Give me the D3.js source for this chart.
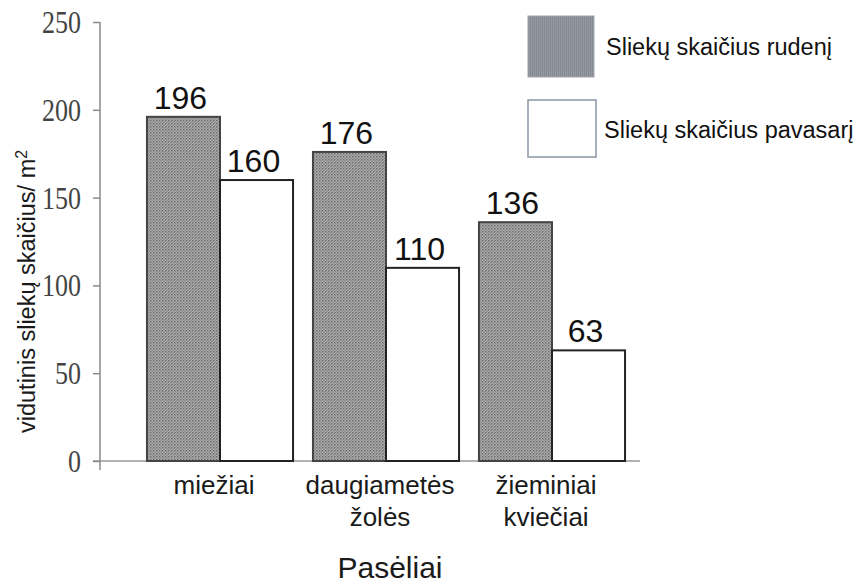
<!DOCTYPE html>
<html>
<head>
<meta charset="utf-8">
<script src="https://cdn.jsdelivr.net/npm/d3@7"></script>
<style>
  html, body { margin: 0; padding: 0; background: #fff; }
  svg { display: block; }
</style>
</head>
<body>
<svg id="chart" width="866" height="584"></svg>
<script>
// Earthworm counts per m² by crop, autumn vs spring
const categories = ["miežiai", "daugiametės žolės", "žieminiai kviečiai"];
const categoryLines = [["miežiai"], ["daugiametės", "žolės"], ["žieminiai", "kviečiai"]];
const seriesNames = ["Sliekų skaičius rudenį", "Sliekų skaičius pavasarį"];
const autumnValues = [196, 176, 136];
const springValues = [160, 110, 63];
const yTicks = [0, 50, 100, 150, 200, 250];

const svg = d3.select("#chart");
const defs = svg.append("defs");

// dotted grey texture for the autumn bars
const pat = defs.append("pattern")
  .attr("id", "dots").attr("patternUnits", "userSpaceOnUse")
  .attr("width", 3).attr("height", 3);
pat.append("rect").attr("width", 3).attr("height", 3).attr("fill", "#b0b0b0");
pat.append("rect").attr("x", 0).attr("y", 0).attr("width", 1.5).attr("height", 1.5).attr("fill", "#6a6a6a");
pat.append("rect").attr("x", 1.5).attr("y", 1.5).attr("width", 1.5).attr("height", 1.5).attr("fill", "#888");

// vertical stripes for the legend swatch
const pat2 = defs.append("pattern")
  .attr("id", "stripes").attr("patternUnits", "userSpaceOnUse")
  .attr("width", 2).attr("height", 2);
pat2.append("rect").attr("width", 2).attr("height", 2).attr("fill", "#959aa2");
pat2.append("rect").attr("width", 1).attr("height", 2).attr("fill", "#858a92");

const y = d3.scaleLinear().domain([0, 250]).range([461, 22]);
const x = d3.scaleBand().domain(categories).range([137, 635])
  .paddingInner(0.12).paddingOuter(0.06);
const xs = d3.scaleBand().domain([0, 1]).range([0, x.bandwidth()]);

// baseline across the plot
svg.append("line")
  .attr("x1", 93).attr("x2", 640)
  .attr("y1", y(0)).attr("y2", y(0))
  .attr("stroke", "#9a9a9a").attr("stroke-width", 1.5);

// y axis
const yAxis = d3.axisLeft(y).tickValues(yTicks).tickSize(7).tickPadding(12);
const gy = svg.append("g").attr("transform", "translate(100,0)").call(yAxis);
gy.select(".domain").remove();
gy.append("line").attr("x1", 0).attr("x2", 0).attr("y1", y(250)).attr("y2", y(0) + 9)
  .attr("stroke", "#8a8a8a").attr("stroke-width", 1.5);
gy.selectAll(".tick line").attr("stroke", "#8a8a8a").attr("stroke-width", 1.5);
gy.selectAll(".tick text")
  .attr("font-family", "'Liberation Serif', 'DejaVu Serif', serif")
  .attr("font-size", 31).attr("fill", "#444")
  .attr("dy", "0.34em")
  .attr("lengthAdjust", "spacingAndGlyphs")
  .attr("textLength", d => String(d).length * 13);

// bars
const rows = categories.map((c, i) => ({ c, vals: [autumnValues[i], springValues[i]] }));
const groups = svg.append("g").selectAll("g").data(rows).join("g")
  .attr("transform", d => `translate(${x(d.c)},0)`);

groups.selectAll("rect").data(d => d.vals.map((v, k) => ({ v, k }))).join("rect")
  .attr("x", d => xs(d.k))
  .attr("width", xs.bandwidth())
  .attr("y", d => y(d.v))
  .attr("height", d => y(0) - y(d.v))
  .attr("fill", d => d.k === 0 ? "url(#dots)" : "#fff")
  .attr("stroke", d => d.k === 0 ? "#444" : "#222")
  .attr("stroke-width", 2);

groups.selectAll("text.val").data(d => d.vals.map((v, k) => ({ v, k }))).join("text")
  .attr("class", "val")
  .attr("x", d => xs(d.k) + xs.bandwidth() / 2 - 3)
  .attr("y", d => y(d.v) - 8)
  .attr("text-anchor", "middle")
  .attr("font-family", "'Liberation Sans', Arial, sans-serif")
  .attr("font-size", 32).attr("fill", "#111")
  .text(d => d.v);

// category labels
categories.forEach((c, i) => {
  const cx = x(c) + x.bandwidth() / 2 - 6;
  const t = svg.append("text")
    .attr("x", cx)
    .attr("y", 494)
    .attr("text-anchor", "middle")
    .attr("font-family", "'Liberation Sans', Arial, sans-serif")
    .attr("font-size", 26).attr("fill", "#1a1a1a");
  categoryLines[i].forEach((line, j) => {
    t.append("tspan").attr("x", cx)
      .attr("dy", j === 0 ? 0 : 32).text(line);
  });
});

// axis titles
svg.append("text")
  .attr("x", 390).attr("y", 578)
  .attr("text-anchor", "middle")
  .attr("font-family", "'Liberation Sans', Arial, sans-serif")
  .attr("font-size", 30).attr("fill", "#1a1a1a")
  .text("Pasėliai");

const yt = svg.append("text")
  .attr("transform", "translate(35,433) rotate(-90)")
  .attr("font-family", "'Liberation Sans', Arial, sans-serif")
  .attr("font-size", 23.5).attr("fill", "#1a1a1a");
yt.append("tspan").text("vidutinis sliekų skaičius/ m");
yt.append("tspan").attr("baseline-shift", "super").attr("font-size", 16).text("2");

// legend
const legend = svg.append("g");
legend.append("rect").attr("x", 528).attr("y", 16).attr("width", 66).attr("height", 61)
  .attr("fill", "url(#stripes)").attr("stroke", "#a0a4aa").attr("stroke-width", 1);
legend.append("rect").attr("x", 528).attr("y", 100).attr("width", 68).attr("height", 57)
  .attr("fill", "#fff").attr("stroke", "#8a96a4").attr("stroke-width", 1.5);
legend.append("text").attr("x", 606).attr("y", 55)
  .attr("font-family", "'Liberation Sans', Arial, sans-serif")
  .attr("font-size", 23.5).attr("fill", "#111").text(seriesNames[0]);
legend.append("text").attr("x", 604).attr("y", 138)
  .attr("font-family", "'Liberation Sans', Arial, sans-serif")
  .attr("font-size", 23.5).attr("fill", "#111").text(seriesNames[1]);
</script>
</body>
</html>
